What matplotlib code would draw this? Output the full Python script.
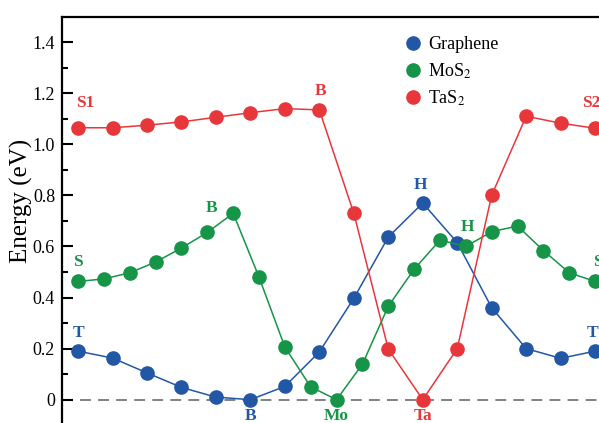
import matplotlib.pyplot as plt
import numpy as np

plt.rcParams['font.family'] = ['Liberation Serif', 'DejaVu Serif']
plt.rcParams['mathtext.fontset'] = 'stix'

# energies along the path (eV)
graphene = [0.19, 0.163, 0.105, 0.048, 0.01, 0.0, 0.052, 0.187, 0.397, 0.637,
            0.77, 0.615, 0.36, 0.2, 0.162, 0.19]
mos2 = [0.463, 0.473, 0.497, 0.539, 0.594, 0.655, 0.73, 0.48, 0.206, 0.05,
        0.0, 0.139, 0.366, 0.511, 0.625, 0.6, 0.658, 0.68, 0.584, 0.497, 0.463]
tas2 = [1.065, 1.065, 1.075, 1.088, 1.106, 1.124, 1.14, 1.135, 0.73, 0.198,
        0.0, 0.2, 0.801, 1.11, 1.083, 1.063]

# site labels: (text, path position, energy, colour)
blue = '#2257a6'
green = '#169447'
red = '#e8373a'
site_labels = [
    ('S1', 0.014, 1.162, red), ('B', 0.468, 1.209, red), ('S2', 0.992, 1.162, red),
    ('S', 0.0, 0.539, green), ('B', 0.259, 0.75, green), ('H', 0.754, 0.676, green),
    ('S', 1.006, 0.539, green),
    ('T', 0.0, 0.261, blue), ('H', 0.663, 0.84, blue), ('T', 0.994, 0.261, blue),
    ('B', 0.333, -0.065, blue), ('Mo', 0.5, -0.065, green), ('Ta', 0.667, -0.065, red),
]

fig = plt.figure(figsize=(5.99, 4.23), dpi=100)
ax = fig.add_axes([62 / 599, -2.2 / 423, 559 / 599, 408.5 / 423])

x_g = np.linspace(0, 1, len(graphene))
x_m = np.linspace(0, 1, len(mos2))
x_t = np.linspace(0, 1, len(tas2))

ax.axhline(0, color='#777777', lw=1.3, dashes=(6, 4), zorder=1)
ax.plot(x_g, graphene, '-o', color=blue, lw=1.1, ms=9.5, label='Graphene', zorder=3)
ax.plot(x_m, mos2, '-o', color=green, lw=1.1, ms=9.5, label='MoS$_2$', zorder=3)
ax.plot(x_t, tas2, '-o', color=red, lw=1.1, ms=9.5, label='TaS$_2$', zorder=3)

for txt, xp, yp, c in site_labels:
    ax.text(xp, yp, txt, color=c, fontsize=12.5, fontweight='bold',
            ha='center', va='center', zorder=4)

ax.set_xlim(-0.031, 1.05)
ax.set_ylim(-0.1, 1.5)
ax.set_yticks([0, 0.2, 0.4, 0.6, 0.8, 1.0, 1.2, 1.4])
ax.set_yticklabels(['0', '0.2', '0.4', '0.6', '0.8', '1.0', '1.2', '1.4'])
ax.set_yticks(np.arange(0.1, 1.5, 0.2), minor=True)
ax.set_xticks([])
ax.tick_params(axis='y', which='major', direction='in', length=8, width=1.5,
               labelsize=13, pad=5)
ax.tick_params(axis='y', which='minor', direction='in', length=4.5, width=1.5)
for s in ax.spines.values():
    s.set_linewidth(1.6)
ax.set_ylabel('Energy (eV)', fontsize=18)
ax.yaxis.set_label_coords(-0.052, 0.549)

leg = ax.legend(loc='upper left', bbox_to_anchor=(404 / 599, 1 - 36 / 423),
                bbox_transform=fig.transFigure, frameon=False, fontsize=13,
                handlelength=1.0, handletextpad=0.35, labelspacing=0.45,
                borderaxespad=0, borderpad=0)
for h in leg.legend_handles:
    h.set_linestyle('')

fig.savefig('out.png', dpi=100)
